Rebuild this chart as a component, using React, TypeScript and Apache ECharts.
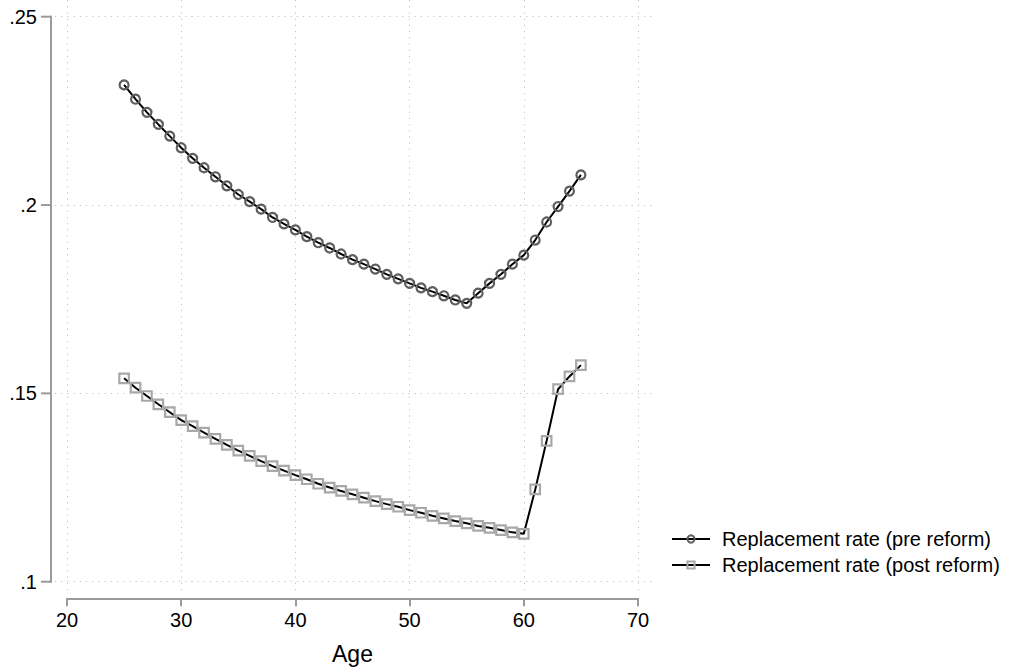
import React, { useEffect, useRef } from 'react';
import * as echarts from 'echarts';

const ages = [25, 26, 27, 28, 29, 30, 31, 32, 33, 34, 35, 36, 37, 38, 39, 40, 41, 42, 43, 44, 45, 46, 47, 48, 49, 50, 51, 52, 53, 54, 55, 56, 57, 58, 59, 60, 61, 62, 63, 64, 65];

const preReform = [
  0.2319, 0.2281, 0.2246, 0.2214, 0.2183, 0.2152, 0.2124, 0.2099, 0.2075, 0.2051,
  0.2028, 0.2009, 0.1989, 0.1967, 0.1950, 0.1934, 0.1916, 0.1900, 0.1886, 0.1870,
  0.1855, 0.1843, 0.1830, 0.1816, 0.1804, 0.1792, 0.1780, 0.1770, 0.1759, 0.1748,
  0.1739, 0.1766, 0.1792, 0.1816, 0.1843, 0.1867, 0.1907, 0.1955, 0.1996, 0.2037,
  0.2080,
];

const postReform = [
  0.1540, 0.1515, 0.1493, 0.1471, 0.1450, 0.1429, 0.1413, 0.1396, 0.1379, 0.1363,
  0.1348, 0.1334, 0.1320, 0.1307, 0.1295, 0.1283, 0.1272, 0.1260, 0.1250, 0.1241,
  0.1232, 0.1223, 0.1214, 0.1206, 0.1199, 0.1190, 0.1183, 0.1175, 0.1168, 0.1161,
  0.1155, 0.1148, 0.1143, 0.1137, 0.1131, 0.1127, 0.1245, 0.1374, 0.1511, 0.1545,
  0.1575,
];

const seriesNames = ['Replacement rate (pre reform)', 'Replacement rate (post reform)'];
const xTicks = [20, 30, 40, 50, 60, 70];
const yTicks = [0.1, 0.15, 0.2, 0.25];
const yTickLabels = ['.1', '.15', '.2', '.25'];
const xTitle = 'Age';

export default function App() {
  const ref = useRef<HTMLDivElement>(null);

  useEffect(() => {
    const chart = echarts.init(ref.current!, null, { renderer: 'svg' });
    const font = '"Liberation Sans", Arial, sans-serif';
    const axisGray = '#9a9a9a';
    const gridLine = { color: '#c4c4c4', width: 1, type: [1.2, 5] as any };
    const yAxisOffset = 16;
    const yTickLen = 10;

    const hidden = {
      axisLine: { show: false, onZero: false },
      axisTick: { show: false },
      axisLabel: { show: false },
      splitLine: { show: false },
    };

    chart.setOption({
      animation: false,
      backgroundColor: '#ffffff',
      textStyle: { fontFamily: font },
      grid: [
        // 0: data area (20..70, .1...25)
        { left: 67, right: 374, top: 16.7, bottom: 89.3 },
        // 1: dotted grid lines, slightly larger than the data area
        { left: 55, right: 360, top: 0, bottom: 78 },
        // 2: x axis, set below the data area
        { left: 67, right: 374, top: 560, bottom: 72.7 },
      ],
      xAxis: [
        { gridIndex: 0, type: 'value', min: 20, max: 70, interval: 10, ...hidden },
        {
          gridIndex: 1,
          type: 'value',
          min: 18.949,
          max: 71.226,
          axisLine: { show: false, onZero: false },
          axisTick: { show: false, customValues: xTicks },
          axisLabel: { show: false, customValues: xTicks },
          splitLine: { show: true, lineStyle: gridLine },
        },
        {
          gridIndex: 2,
          type: 'value',
          min: 20,
          max: 70,
          interval: 10,
          axisLine: { show: true, onZero: false, lineStyle: { color: axisGray, width: 2 } },
          axisTick: { show: true, inside: false, length: 8, lineStyle: { color: axisGray, width: 2 } },
          axisLabel: { color: '#000', fontSize: 20, fontFamily: font, margin: 12 },
          splitLine: { show: false },
          name: xTitle,
          nameLocation: 'middle',
          nameGap: 44,
          nameTextStyle: { fontSize: 23, color: '#000', fontFamily: font },
        },
      ],
      yAxis: [
        {
          gridIndex: 0,
          type: 'value',
          min: 0.1,
          max: 0.25,
          interval: 0.05,
          axisLine: { show: false, onZero: false },
          axisTick: { show: false },
          axisLabel: {
            color: '#000',
            fontSize: 20,
            fontFamily: font,
            margin: 30,
            formatter: (v: number) => {
              const i = yTicks.findIndex((t) => Math.abs(t - v) < 1e-6);
              return i >= 0 ? yTickLabels[i] : '';
            },
          },
          splitLine: { show: false },
        },
        {
          gridIndex: 1,
          type: 'value',
          min: 0.097,
          max: 0.25443,
          axisLine: { show: false, onZero: false },
          axisTick: { show: false, customValues: yTicks },
          axisLabel: { show: false, customValues: yTicks },
          splitLine: { show: true, lineStyle: gridLine },
        },
        { gridIndex: 2, type: 'value', min: 0, max: 1, ...hidden },
      ],
      legend: {
        orient: 'vertical',
        left: 666,
        top: 524,
        itemWidth: 38,
        itemHeight: 9,
        itemGap: 6,
        selectedMode: false,
        textStyle: { fontSize: 20, color: '#000', fontFamily: font, lineHeight: 20, padding: [0, 0, 0, 7] },
        data: seriesNames,
      },
      series: [
        {
          type: 'line',
          name: seriesNames[0],
          xAxisIndex: 0,
          yAxisIndex: 0,
          data: ages.map((a, i) => [a, preReform[i]]),
          symbol: 'circle',
          symbolSize: 9,
          lineStyle: { color: '#000', width: 2 },
          itemStyle: { color: 'rgba(255,255,255,0)', borderColor: '#5e5e5e', borderWidth: 2.2 },
          silent: true,
          z: 3,
        },
        {
          type: 'line',
          name: seriesNames[1],
          xAxisIndex: 0,
          yAxisIndex: 0,
          data: ages.map((a, i) => [a, postReform[i]]),
          symbol: 'rect',
          symbolSize: 9.5,
          lineStyle: { color: '#000', width: 2 },
          itemStyle: { color: 'rgba(255,255,255,0)', borderColor: '#a8a8a8', borderWidth: 2.2 },
          silent: true,
          z: 3,
        },
      ],
    });

    // y axis line and ticks as filled thin rectangles, set off to the left of
    // the data area and positioned through the chart's own y scale
    const pTop = chart.convertToPixel({ xAxisIndex: 0, yAxisIndex: 0 }, [xTicks[0], yTicks[yTicks.length - 1]]) as number[];
    const pBottom = chart.convertToPixel({ xAxisIndex: 0, yAxisIndex: 0 }, [xTicks[0], yTicks[0]]) as number[];
    const ax = (pTop && isFinite(pTop[0]) ? pTop[0] : 67) - yAxisOffset;
    const yT = pTop && isFinite(pTop[1]) ? pTop[1] : 16.7;
    const yB = pBottom && isFinite(pBottom[1]) ? pBottom[1] : 581.7;
    const fillStyle = { fill: axisGray, stroke: 'none' };
    const elements: any[] = [
      { type: 'rect', silent: true, z: 100, shape: { x: ax - 1, y: yT - 1, width: 2, height: yB - yT + 2 }, style: fillStyle },
    ];
    yTicks.forEach((v) => {
      const p = chart.convertToPixel({ xAxisIndex: 0, yAxisIndex: 0 }, [xTicks[0], v]) as number[];
      const py = p && isFinite(p[1]) ? p[1] : yT + ((0.25 - v) / 0.15) * (yB - yT);
      elements.push({ type: 'rect', silent: true, z: 100, shape: { x: ax - yTickLen, y: py - 1, width: yTickLen, height: 2 }, style: fillStyle });
    });
    chart.setOption({ graphic: { elements } });

    return () => chart.dispose();
  }, []);

  return <div ref={ref} style={{ position: 'fixed', left: 0, top: 0, width: 1012, height: 671 }} />;
}
